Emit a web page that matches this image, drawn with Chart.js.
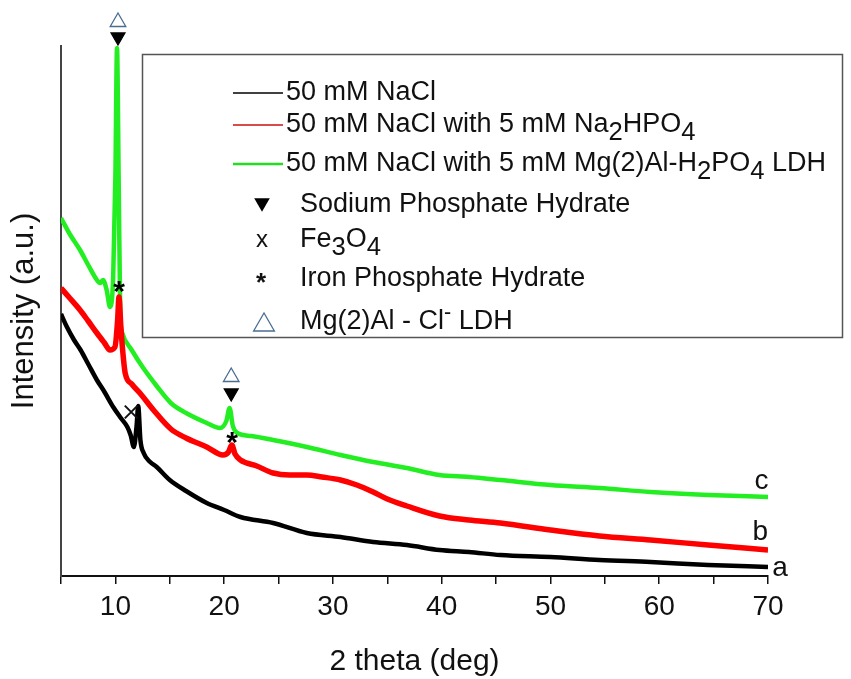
<!DOCTYPE html>
<html>
<head>
<meta charset="utf-8">
<script src="https://cdn.jsdelivr.net/npm/chart.js@4"></script>
<style>
  html, body { margin: 0; padding: 0; background: #fff; }
</style>
</head>
<body>
<canvas id="xrdChart" width="851" height="679"></canvas>
<script>
// XRD patterns, 2 theta (deg) vs intensity (a.u.)
const thetaA = [5, 5.5, 6.2, 6.8, 7.5, 8.3, 9.0, 9.8, 10.5, 11.1, 11.4, 11.7, 11.95, 12.1, 12.3, 12.6, 13.2, 13.8, 15, 16.5, 18.4, 20, 21.5, 24.5, 27.6, 30.7, 33.7, 36.8, 39.8, 42.5, 45.4, 50, 54.5, 59.2, 64.5, 70];
const intensityA = [262, 250, 236, 226, 212, 196, 184, 169, 158, 149, 141, 129, 150, 170, 136, 123, 114, 109, 96, 85, 73, 66, 59, 53, 43, 39, 34, 31, 26, 24, 21, 19, 16, 14, 11, 9];

const thetaB = [5, 5.8, 6.75, 7.5, 8.3, 9.0, 9.5, 9.96, 10.2, 10.33, 10.5, 10.65, 10.9, 11.5, 12.4, 13.5, 15.1, 16.5, 18.4, 19.9, 20.4, 20.7, 21.0, 21.5, 23, 24.5, 26, 27.6, 29, 30.7, 32.2, 33.7, 35, 36.8, 39.8, 42.5, 45.4, 50, 54.5, 59.2, 64.5, 70];
const intensityB = [288, 278, 266, 255, 243, 233, 226, 229, 255, 279, 250, 228, 203, 192, 181, 166, 147, 138, 129, 121, 124, 131, 122, 116, 110, 103, 101, 101, 99, 96, 91, 84, 77, 70, 60, 56, 53, 46, 40, 36, 31, 26];

const thetaC = [5, 5.8, 6.75, 7.5, 8.3, 8.6, 8.86, 9.2, 9.5, 9.8, 10.0, 10.15, 10.3, 10.45, 10.6, 11.5, 12.5, 13.8, 15.1, 16.5, 18.4, 19.6, 20.2, 20.5, 20.8, 21.2, 22.5, 24.5, 27.6, 30.7, 33.7, 36.8, 39.8, 42.5, 45.4, 50, 54.5, 59.2, 64.5, 70];
const intensityC = [358, 342, 326, 311, 296, 293, 296, 286, 269, 300, 400, 528, 400, 260, 244, 226, 209, 190, 173, 163, 153, 148, 155, 168, 150, 143, 140, 136, 129, 121, 114, 108, 101, 99, 96, 91, 88, 84, 81, 79];

// phase markers
const sodiumTheta = [10.24, 20.65];
const sodiumI = [539, 183];
const ldhTheta = [10.24, 20.65];
const ldhI = [554, 199];
const fe3o4Theta = [11.45];
const fe3o4I = [164];
const ironTheta = [10.33, 20.72];
const ironI = [289, 138];

// curve tags a, b, c
const tagText = ['a', 'b', 'c'];
const tagTheta = [71.1, 69.3, 69.4];
const tagI = [8, 44, 95];

const xTicks = [10, 20, 30, 40, 50, 60, 70];

const FONT = "'Liberation Sans', Arial, sans-serif";

const toPoints = (xs, ys) => xs.map((x, i) => ({ x: x, y: ys[i] }));

function glyph(ch, size, font, dy) {
    const c = document.createElement('canvas');
    c.width = size;
    c.height = size;
    const g = c.getContext('2d');
    g.fillStyle = '#000';
    g.font = font;
    g.textAlign = 'center';
    g.textBaseline = 'middle';
    g.fillText(ch, size / 2, size / 2 + dy);
    return c;
}

const starImg = glyph('*', 26, 'bold 30px ' + FONT, 6);

function drawParts(ctx, parts, x, y, px) {
    let cx = x;
    parts.forEach(p => {
        const kind = p[1];
        let size = px, dy = 0;
        if (kind === 'sub') { size = px * 0.95; dy = px * 0.3; }
        if (kind === 'sup') { size = px * 0.8; dy = -px * 0.35; }
        ctx.font = size + 'px ' + FONT;
        ctx.fillText(p[0], cx, y + dy);
        cx += ctx.measureText(p[0]).width;
    });
}

function triangle(ctx, x, y, r, down) {
    const h = r * 1.5;
    const w = r * 1.73;
    ctx.beginPath();
    if (down) {
        ctx.moveTo(x - w / 2, y - h / 2);
        ctx.lineTo(x + w / 2, y - h / 2);
        ctx.lineTo(x, y + h / 2);
    } else {
        ctx.moveTo(x - w / 2, y + h / 2);
        ctx.lineTo(x + w / 2, y + h / 2);
        ctx.lineTo(x, y - h / 2);
    }
    ctx.closePath();
}

const legendRows = [
    { kind: 'line', color: '#000000', parts: [['50 mM NaCl']] },
    { kind: 'line', color: '#cc1111', parts: [['50 mM NaCl with 5 mM Na'], ['2', 'sub'], ['HPO'], ['4', 'sub']] },
    { kind: 'line', color: '#22dd22', parts: [['50 mM NaCl with 5 mM Mg(2)Al-H'], ['2', 'sub'], ['PO'], ['4', 'sub'], [' LDH']] },
    { kind: 'down', parts: [['Sodium Phosphate Hydrate']] },
    { kind: 'x', parts: [['Fe'], ['3', 'sub'], ['O'], ['4', 'sub']] },
    { kind: 'star', parts: [['Iron Phosphate Hydrate']] },
    { kind: 'open', parts: [['Mg(2)Al - Cl'], ['-', 'sup'], [' LDH']] }
];
const legendRowY = [93, 125, 164, 205, 240, 279, 322];

const legendBox = {
    id: 'legendBox',
    afterDraw(chart) {
        const ctx = chart.ctx;
        ctx.save();
        ctx.strokeStyle = '#555';
        ctx.lineWidth = 1.5;
        ctx.strokeRect(142.5, 54.5, 700, 283);

        ctx.fillStyle = '#111';
        ctx.textBaseline = 'middle';
        ctx.textAlign = 'left';
        legendRows.forEach((row, i) => {
            const y = legendRowY[i];
            if (row.kind === 'line') {
                ctx.strokeStyle = row.color;
                ctx.lineWidth = row.color === '#22dd22' ? 2.5 : 1.5;
                ctx.beginPath();
                ctx.moveTo(233, y);
                ctx.lineTo(283, y);
                ctx.stroke();
                drawParts(ctx, row.parts, 286, y, 27);
                return;
            }
            if (row.kind === 'down') {
                triangle(ctx, 262, y, 9, true);
                ctx.fillStyle = '#000';
                ctx.fill();
            } else if (row.kind === 'open') {
                triangle(ctx, 264, y, 12, false);
                ctx.strokeStyle = '#4a6d90';
                ctx.lineWidth = 1.3;
                ctx.stroke();
            } else if (row.kind === 'x') {
                ctx.font = '24px ' + FONT;
                ctx.fillText('x', 256, y);
            } else if (row.kind === 'star') {
                ctx.font = 'bold 26px ' + FONT;
                ctx.fillText('*', 256, y + 5);
            }
            ctx.fillStyle = '#111';
            drawParts(ctx, row.parts, 300, y, 27);
        });

        // curve tags
        const xs = chart.scales.x, ys = chart.scales.y;
        ctx.font = '28px ' + FONT;
        ctx.textAlign = 'center';
        tagText.forEach((t, i) => {
            ctx.fillText(t, xs.getPixelForValue(tagTheta[i]), ys.getPixelForValue(tagI[i]));
        });
        ctx.restore();
    }
};

function traceSet(label, xs, ys, color, width) {
    return {
        type: 'line',
        label: label,
        order: 1,
        data: toPoints(xs, ys),
        borderColor: color,
        borderWidth: width,
        pointRadius: 0,
        cubicInterpolationMode: 'monotone',
        borderJoinStyle: 'round'
    };
}

function markerSet(label, xs, ys, extra) {
    return Object.assign({
        type: 'scatter',
        label: label,
        order: 0,
        data: toPoints(xs, ys),
        clip: false,
        pointBorderWidth: 1.3,
        pointHoverRadius: 40
    }, extra);
}

new Chart(document.getElementById('xrdChart'), {
    data: {
        datasets: [
            traceSet('50 mM NaCl', thetaA, intensityA, '#000000', 4.5),
            traceSet('50 mM NaCl with 5 mM Na2HPO4', thetaB, intensityB, '#ff0000', 5.5),
            traceSet('50 mM NaCl with 5 mM Mg(2)Al-H2PO4 LDH', thetaC, intensityC, '#22ee22', 4.5),
            markerSet('Sodium Phosphate Hydrate', sodiumTheta, sodiumI, {
                pointStyle: 'triangle', rotation: 180, pointRadius: 8,
                backgroundColor: '#000', borderColor: '#000'
            }),
            markerSet('Mg(2)Al - Cl- LDH', ldhTheta, ldhI, {
                pointStyle: 'triangle', pointRadius: 9,
                backgroundColor: '#fff', borderColor: '#4a6d90'
            }),
            markerSet('Fe3O4', fe3o4Theta, fe3o4I, {
                pointStyle: 'crossRot', pointRadius: 9, pointBorderWidth: 2, borderColor: '#111'
            }),
            markerSet('Iron Phosphate Hydrate', ironTheta, ironI, { pointStyle: starImg })
        ]
    },
    options: {
        responsive: false,
        animation: false,
        events: [],
        layout: { padding: { top: 46, right: 83, left: 0, bottom: 0 } },
        plugins: {
            legend: { display: false },
            tooltip: { enabled: false }
        },
        scales: {
            x: {
                type: 'linear',
                min: 5,
                max: 70,
                afterFit: (s) => { s.height = 103; },
                afterBuildTicks: (s) => {
                    s.ticks = [5, 10, 15, 20, 25, 30, 35, 40, 45, 50, 55, 60, 65, 70].map(v => ({ value: v }));
                },
                ticks: {
                    autoSkip: false,
                    maxRotation: 0,
                    color: '#111',
                    padding: 6,
                    font: { family: FONT, size: 28 },
                    callback: (v) => xTicks.includes(v) ? String(v) : ''
                },
                grid: {
                    drawOnChartArea: false,
                    drawTicks: true,
                    tickLength: 8,
                    color: '#111',
                    lineWidth: 1.5
                },
                border: { color: '#111', width: 2 },
                title: {
                    display: true,
                    text: '2 theta (deg)',
                    color: '#111',
                    font: { family: FONT, size: 30, lineHeight: 1 },
                    padding: { top: 0, bottom: 2 }
                }
            },
            y: {
                min: 0,
                max: 530,
                afterFit: (s) => { s.width = 61; },
                ticks: { display: false },
                grid: { display: false },
                border: { color: '#444', width: 2 },
                title: {
                    display: true,
                    text: 'Intensity (a.u.)',
                    color: '#111',
                    font: { family: FONT, size: 31, lineHeight: 1.2 },
                    padding: { top: 6, bottom: 0 }
                }
            }
        }
    },
    plugins: [legendBox]
});
</script>
</body>
</html>
